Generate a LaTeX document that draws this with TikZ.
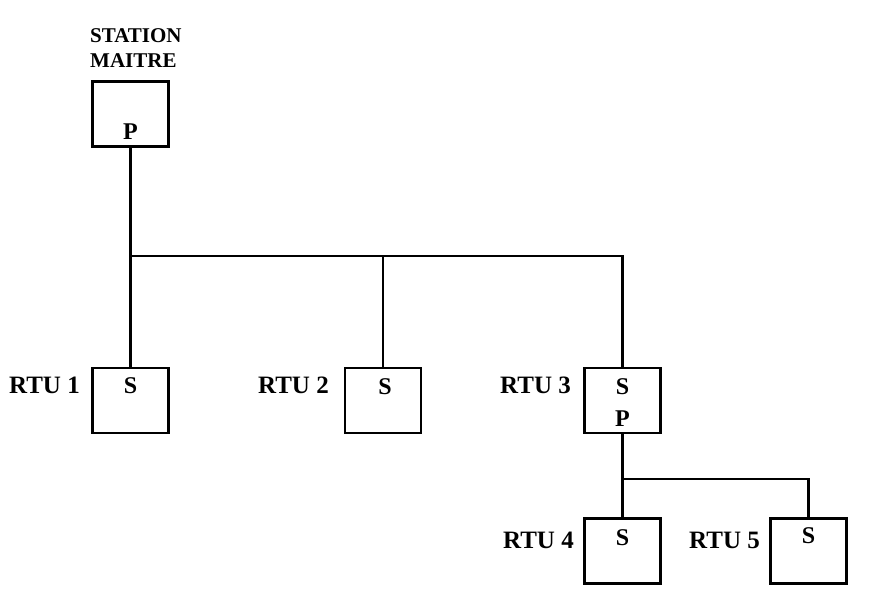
\documentclass[tikz,border=0pt]{standalone}
\usepackage{fontspec}
\setmainfont{Liberation Serif}
\begin{document}
\begin{tikzpicture}[x=1pt,y=-1pt,
  box/.style={draw,line width=2.4pt,minimum width=76pt,minimum height=65pt,inner sep=0pt},
  lbl/.style={font=\fontsize{24}{26}\selectfont\bfseries,inner sep=0pt},
  rtu/.style={font=\fontsize{25}{26}\selectfont\bfseries,inner sep=0pt,anchor=east},
  wire/.style={line width=2.4pt}]
\useasboundingbox (0,0) rectangle (871,600);
\node[box] (M) at (130.5,114) {};
\node[box] (R1) at (130.5,400.5) {};
\node[box] (R2) at (383,400.5) {};
\node[box] (R3) at (622.5,400.5) {};
\node[box] (R4) at (622.5,551) {};
\node[box] (R5) at (808.5,551) {};
% inner letters
\node[lbl] (MP) at (130.5,132) {P};
\node[lbl] (R1S) at (130.5,386) {S};
\node[lbl] (R2S) at (385,387) {S};
\node[lbl] (R3S) at (622.5,387) {S};
\node[lbl] (R3P) at (622.5,419) {P};
\node[lbl] (R4S) at (622.5,538) {S};
\node[lbl] (R5S) at (808.5,536) {S};
% labels
\node[align=left,anchor=north west,inner sep=0pt,font=\fontsize{21}{25}\selectfont\bfseries] (ML) at (90,28) {STATION\\MAITRE};
\node[rtu] (L1) at (80,385.5) {RTU 1};
\node[rtu] (L2) at (329,385.5) {RTU 2};
\node[rtu] (L3) at (571,385.5) {RTU 3};
\node[rtu] (L4) at (574,540) {RTU 4};
\node[rtu] (L5) at (760,540) {RTU 5};
% wires
\coordinate (J1) at (130.5,256);
\coordinate (J2) at (622.5,479);
\draw[wire] (M.south) -- (R1.north);
\draw[wire] (J1) -| (R2.north);
\draw[wire] (J1) -| (R3.north);
\draw[wire] (R3.south) -- (R4.north);
\draw[wire] (J2) -| (R5.north);
\end{tikzpicture}
\end{document}
